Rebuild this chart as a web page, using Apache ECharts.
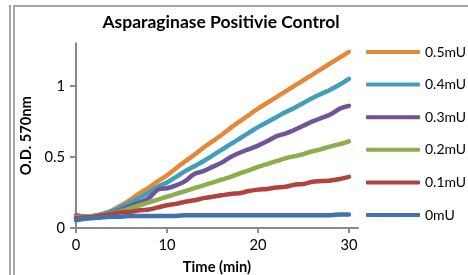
<!DOCTYPE html>
<html>
<head>
<meta charset="utf-8">
<script src="https://cdn.jsdelivr.net/npm/echarts@6/dist/echarts.min.js"></script>
<style>
	html, body { margin: 0; padding: 0; background: #fff; }
	#chart { width: 468px; height: 275px; }
</style>
</head>
<body>
<div id="chart"></div>
<script>
	// time in minutes, one reading per minute
	const minutes = [0, 1, 2, 3, 4, 5, 6, 7, 8, 9, 10, 11, 12, 13, 14, 15, 16, 17, 18, 19, 20, 21, 22, 23, 24, 25, 26, 27, 28, 29, 30]

	const names = ['0.5mU', '0.4mU', '0.3mU', '0.2mU', '0.1mU', '0mU']
	const colors = ['#e4883a', '#419fba', '#6f5597', '#8cae4c', '#b0433f', '#4172ad']

	const od05 = [0.07, 0.075, 0.085, 0.10, 0.125, 0.16, 0.20, 0.245, 0.285, 0.33, 0.37, 0.42, 0.47, 0.515, 0.565, 0.61, 0.655, 0.705, 0.75, 0.795, 0.84, 0.88, 0.92, 0.96, 1.0, 1.04, 1.08, 1.12, 1.16, 1.20, 1.24]
	const od04 = [0.07, 0.075, 0.085, 0.10, 0.12, 0.15, 0.18, 0.215, 0.25, 0.29, 0.32, 0.36, 0.40, 0.435, 0.47, 0.51, 0.55, 0.59, 0.63, 0.67, 0.71, 0.745, 0.78, 0.815, 0.845, 0.88, 0.915, 0.945, 0.975, 1.01, 1.05]
	const od03 = [0.09, 0.08, 0.085, 0.095, 0.11, 0.13, 0.155, 0.18, 0.21, 0.27, 0.28, 0.30, 0.33, 0.38, 0.40, 0.43, 0.46, 0.50, 0.53, 0.555, 0.58, 0.61, 0.645, 0.665, 0.69, 0.72, 0.75, 0.775, 0.80, 0.84, 0.86]
	const od02 = [0.08, 0.08, 0.085, 0.095, 0.105, 0.12, 0.14, 0.16, 0.18, 0.20, 0.22, 0.24, 0.26, 0.28, 0.30, 0.32, 0.34, 0.36, 0.385, 0.405, 0.43, 0.45, 0.47, 0.49, 0.505, 0.52, 0.54, 0.555, 0.575, 0.59, 0.61]
	const od01 = [0.07, 0.075, 0.08, 0.09, 0.10, 0.11, 0.115, 0.125, 0.13, 0.145, 0.16, 0.17, 0.185, 0.195, 0.21, 0.22, 0.23, 0.24, 0.245, 0.26, 0.27, 0.275, 0.285, 0.29, 0.305, 0.31, 0.325, 0.33, 0.335, 0.345, 0.36]
	const od00 = [0.055, 0.065, 0.07, 0.075, 0.08, 0.08, 0.085, 0.085, 0.085, 0.085, 0.085, 0.085, 0.09, 0.09, 0.09, 0.09, 0.09, 0.09, 0.09, 0.09, 0.09, 0.09, 0.09, 0.09, 0.09, 0.09, 0.09, 0.09, 0.09, 0.095, 0.095]

	const xTicks = [0, 10, 20, 30]
	const yTicks = [0, 0.5, 1]

	const allValues = [od05, od04, od03, od02, od01, od00]
	const font = 'Lato'
	const axisGray = '#8a8a8a'

	const chart = echarts.init(document.getElementById('chart'), null, { renderer: 'canvas' })

	chart.setOption({
		animation: false,
		backgroundColor: '#fff',
		title: {
			text: 'Asparaginase Positivie Control',
			left: 221,
			top: 13,
			padding: 0,
			textAlign: 'center',
			textStyle: { fontFamily: font, fontSize: 17.5, fontWeight: 'bold', color: '#000' }
		},
		legend: {
			orient: 'vertical',
			left: 366,
			top: 45,
			padding: 0,
			icon: 'roundRect',
			itemWidth: 54,
			itemHeight: 4,
			itemGap: 18.6,
			data: names,
			textStyle: { fontFamily: font, fontSize: 14, color: '#000', lineHeight: 14, padding: [0, 0, 0, 0] }
		},
		grid: {
			left: 76,
			top: 43.3,
			width: 282,
			height: 184.7,
			containLabel: false,
			outerBoundsMode: 'none'
		},
		xAxis: {
			type: 'value',
			min: 0,
			max: 31,
			interval: 10,
			name: 'Time (min)',
			nameLocation: 'middle',
			nameGap: 32,
			nameTextStyle: { fontFamily: font, fontSize: 14.7, fontWeight: 'bold', color: '#000' },
			axisLine: { onZero: false, lineStyle: { color: axisGray, width: 2 } },
			axisTick: { show: true, length: 5, customValues: xTicks, lineStyle: { color: axisGray, width: 2 } },
			axisLabel: { customValues: xTicks, fontFamily: font, fontSize: 14.7, color: '#000', margin: 10 },
			splitLine: { show: false }
		},
		yAxis: {
			type: 'value',
			min: 0,
			max: 1.3,
			interval: 0.5,
			name: 'O.D. 570nm',
			nameLocation: 'middle',
			nameRotate: 90,
			nameGap: 39,
			nameTextStyle: { fontFamily: font, fontSize: 14.7, fontWeight: 'bold', color: '#000' },
			axisLine: { show: true, lineStyle: { color: axisGray, width: 2 } },
			axisTick: { show: true, length: 6, customValues: yTicks, lineStyle: { color: axisGray, width: 2 } },
			axisLabel: { customValues: yTicks, fontFamily: font, fontSize: 14.7, color: '#000', margin: 11 },
			splitLine: { show: false }
		},
		graphic: [
			{ type: 'line', shape: { x1: 10, y1: 5, x2: 10, y2: 275 }, style: { stroke: '#a3a3a3', lineWidth: 2 } },
			{ type: 'line', shape: { x1: 14, y1: 6, x2: 14, y2: 275 }, style: { stroke: '#a3a3a3', lineWidth: 2 } },
			{ type: 'line', shape: { x1: 13, y1: 6, x2: 468, y2: 6 }, style: { stroke: '#a3a3a3', lineWidth: 2 } }
		],
		series: names.map(function(name, i) {
			return {
				name: name,
				type: 'line',
				symbol: 'none',
				smooth: 0.3,
				color: colors[i],
				z: 2 + i,
				lineStyle: { width: 4.5, cap: 'round', join: 'round' },
				data: minutes.map(function(t, k) { return [t, allValues[i][k]] })
			}
		})
	})
</script>
</body>
</html>
